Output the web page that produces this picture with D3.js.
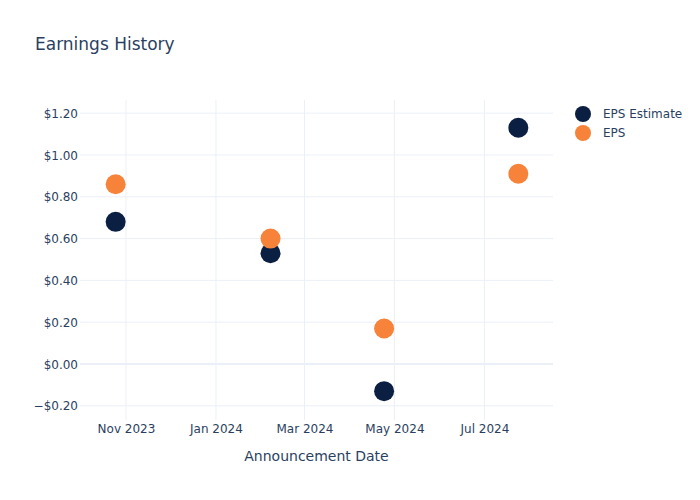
<!DOCTYPE html>
<html><head><meta charset="utf-8">
<script src="https://cdn.jsdelivr.net/npm/d3@7"></script>
<style>body{margin:0;background:#fff}svg{display:block}text{font-family:"DejaVu Sans",Verdana,sans-serif}</style>
</head><body>
<svg id="c" width="700" height="500"></svg>
<script>
const dates = ["2023-10-25","2024-02-07","2024-04-24","2024-07-24"];
const epsEstimate = [0.68, 0.53, -0.13, 1.13];
const eps = [0.86, 0.60, 0.17, 0.91];
const seriesNames = ["EPS Estimate","EPS"];
const seriesColors = ["#0b1f42","#f7823a"];
const yTicks = [-0.2, 0, 0.2, 0.4, 0.6, 0.8, 1.0, 1.2];
const xTicks = ["2023-11-01","2024-01-01","2024-03-01","2024-05-01","2024-07-01"];
const xDomain = ["2023-09-30T20:00","2024-08-16T12:00"];
const yDomain = [-0.268, 1.263];

const parse = d3.isoParse;
const svg = d3.select("#c");
const L=80, R=553, T=100, B=420;
const x = d3.scaleTime().domain(xDomain.map(parse)).range([L,R]);
const y = d3.scaleLinear().domain(yDomain).range([B,T]);
const grid="#ebf0f8", txt="#2a3f5f";

// grid
svg.append("g").selectAll("line").data(xTicks.map(parse)).join("line")
  .attr("x1",d=>x(d)).attr("x2",d=>x(d)).attr("y1",T).attr("y2",B)
  .attr("stroke",grid).attr("stroke-width",1);
svg.append("g").selectAll("line").data(yTicks).join("line")
  .attr("x1",L).attr("x2",R).attr("y1",d=>y(d)).attr("y2",d=>y(d))
  .attr("stroke",grid).attr("stroke-width",d=>d===0?2:1);

// axes
const fmtY = d => (d<0?"\u2212":"") + "$" + Math.abs(d).toFixed(2);
const yAxis = d3.axisLeft(y).tickValues(yTicks).tickFormat(fmtY).tickSize(0).tickPadding(0);
const gy = svg.append("g").attr("transform",`translate(${L-2},0)`).call(yAxis);
gy.select(".domain").remove();
gy.selectAll("text").attr("fill",txt).attr("font-size",12).attr("font-family","DejaVu Sans, sans-serif").attr("dy","0.35em");

const xAxis = d3.axisBottom(x).tickValues(xTicks.map(parse)).tickFormat(d3.timeFormat("%b %Y")).tickSize(0).tickPadding(0);
const gx = svg.append("g").attr("transform",`translate(0,${B+13})`).call(xAxis);
gx.select(".domain").remove();
gx.selectAll("text").attr("fill",txt).attr("font-size",12).attr("font-family","DejaVu Sans, sans-serif").attr("dy","0");

// points
const series=[epsEstimate, eps];
series.forEach((vals,i)=>{
  svg.append("g").selectAll("circle").data(vals).join("circle")
    .attr("cx",(d,j)=>x(parse(dates[j]))).attr("cy",d=>y(d)).attr("r",10)
    .attr("fill",seriesColors[i]);
});

// title
svg.append("text").attr("x",35).attr("y",50).attr("font-size",17).attr("fill",txt).text("Earnings History");
svg.append("text").attr("x",(L+R)/2).attr("y",461).attr("text-anchor","middle").attr("font-size",14).attr("fill",txt).text("Announcement Date");

// legend
const lg = svg.append("g");
seriesNames.forEach((n,i)=>{
  lg.append("circle").attr("cx",583).attr("cy",114+i*19).attr("r",8).attr("fill",seriesColors[i]);
  lg.append("text").attr("x",603).attr("y",114+i*19).attr("dy","0.35em").attr("font-size",12).attr("fill",txt).text(n);
});
</script>
</body></html>
